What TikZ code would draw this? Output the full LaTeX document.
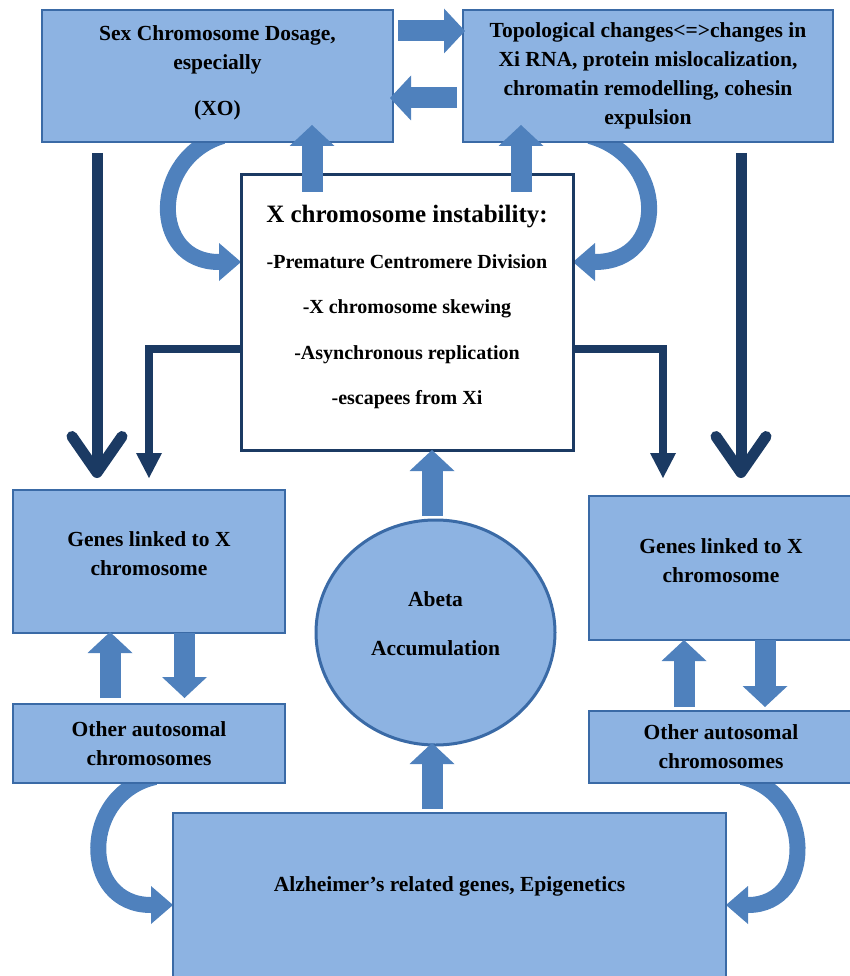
\documentclass[tikz,border=0pt]{standalone}
\usepackage{fontspec}
\setmainfont{Liberation Serif}
\usetikzlibrary{arrows.meta,shapes.geometric,backgrounds}
\definecolor{boxfill}{HTML}{8DB3E2}
\definecolor{boxline}{HTML}{3A6AA6}
\definecolor{arrowfill}{HTML}{4F81BD}
\definecolor{navy}{HTML}{1B3A63}

\begin{document}
\begin{tikzpicture}[x=1pt, y=-1pt,
    box/.style={shape=rectangle, draw=boxline, fill=boxfill, line width=2.5pt, outer sep=0pt,
                inner sep=0pt, align=center, font=\fontsize{21.5}{29}\selectfont\bfseries},
    fat/.style={draw=arrowfill, line width=21pt, -{Triangle[width=45pt,length=21pt,line width=0pt]}},
    curly/.style={draw=arrowfill, line width=16pt, -{Triangle[width=38pt,length=22pt,line width=0pt]}},
    navyline/.style={draw=navy, line width=11pt, -{Straight Barb[length=36pt,width=50pt,round]}},
    elbow/.style={draw=navy, line width=8pt, -{Triangle[width=26pt,length=25pt,line width=0pt]}}]
    \useasboundingbox (0,0) rectangle (849,976);
    \node[box, minimum width=351pt, minimum height=132pt, text depth=11pt] at (217.5,76) (sex) {Sex Chromosome Dosage,\\ especially\\[17pt] (XO)};
    \node[box, minimum width=370pt, minimum height=132pt] at (648,76) (topo) {Topological changes<=>changes in\\ Xi RNA, protein mislocalization,\\ chromatin remodelling, cohesin\\ expulsion};
    \node[box, fill=white, draw=navy, line width=3pt, minimum width=332pt, minimum height=275pt, text depth=15pt,
          font=\fontsize{20}{45.5}\selectfont\bfseries] at (407,312.5) (instab)
          {{\fontsize{25}{30}\selectfont X chromosome instability:}\\ -Premature Centromere Division\\ -X chromosome skewing\\ -Asynchronous replication\\ -escapees from Xi};
    \node[box, minimum width=272pt, minimum height=143pt, text height=29pt] at (149,561.5) (genesL) {Genes linked to X\\ chromosome};
    \node[box, minimum width=264pt, minimum height=144pt, text height=29pt] at (721,568) (genesR) {Genes linked to X\\ chromosome};
    \node[box, minimum width=272pt, minimum height=79pt] at (149,743.5) (otherL) {Other autosomal\\ chromosomes};
    \node[box, minimum width=264pt, minimum height=72pt] at (721,747) (otherR) {Other autosomal\\ chromosomes};
    \node[box, shape=ellipse, line width=3pt, minimum width=239pt, minimum height=225pt, text height=47pt,
          font=\fontsize{21.5}{49}\selectfont\bfseries] at (435.5,632.5) (abeta) {Abeta\\ Accumulation};
    \node[box, minimum width=553pt, minimum height=166pt, text depth=23pt] at (449.5,896) (alz) {Alzheimer's related genes, Epigenetics};

    \begin{scope}[on background layer]
    \draw[curly] ([xshift=5pt,yshift=6pt]sex.south) .. controls +(-72,22) and +(-91,0) .. ([yshift=50.5pt]instab.west);
    \draw[curly] ([xshift=-58pt,yshift=6pt]topo.south) .. controls +(78,22) and +(95,0) .. ([yshift=50.5pt]instab.east);
    \draw[curly] ([xshift=6pt,yshift=6pt]otherL.south) .. controls +(-75,17) and +(-93,0) .. ([yshift=-9pt]alz.west);
    \draw[curly] ([xshift=21pt,yshift=6pt]otherR.south) .. controls +(73,17) and +(89,0) .. ([yshift=-9pt]alz.east);
    \end{scope}

    \draw[fat, shorten <=5pt, shorten >=-2pt] ([yshift=45pt]sex.east) -- ([yshift=45pt]topo.west);
    \draw[fat, shorten <=6pt, shorten >=-3pt] ([yshift=-22pt]topo.west) -- ([yshift=-22pt]sex.east);
    \draw[fat, shorten <=-17pt, shorten >=-17pt] ([xshift=-95pt]instab.north) -- ([xshift=94.5pt]sex.south);
    \draw[fat, shorten <=-17pt, shorten >=-17pt] ([xshift=114pt]instab.north) -- ([xshift=-127pt]topo.south);
    \draw[fat, shorten <=4pt] ([xshift=-3.5pt]abeta.north) -- ([xshift=25pt]instab.south);
    \draw[fat, shorten <=4pt, shorten >=-2pt] ([xshift=-17.5pt]alz.north) -- ([xshift=-3.5pt]abeta.south);
    \draw[fat, shorten <=6pt, shorten >=-1pt] ([xshift=-39pt]otherL.north) -- ([xshift=-39pt]genesL.south);
    \draw[fat, shorten >=6pt] ([xshift=35.5pt]genesL.south) -- ([xshift=35.5pt]otherL.north);
    \draw[fat, shorten <=4pt] ([xshift=-37pt]otherR.north) -- ([xshift=-37pt]genesR.south);
    \draw[fat, shorten >=4pt] ([xshift=44pt]genesR.south) -- ([xshift=44pt]otherR.north);

    \draw[navyline, shorten <=11pt, shorten >=12pt] ([xshift=-120.5pt]sex.south) -- ([xshift=-52pt]genesL.north);
    \draw[navyline, shorten <=11pt, shorten >=18pt] ([xshift=93pt]topo.south) -- ([xshift=20pt]genesR.north);
    \draw[elbow, shorten >=12pt] ([yshift=-36.5pt]instab.west) -| (genesL.north);
    \draw[elbow, shorten >=18pt] ([yshift=-36.5pt]instab.east) -| ([xshift=-58pt]genesR.north);
\end{tikzpicture}
\end{document}
